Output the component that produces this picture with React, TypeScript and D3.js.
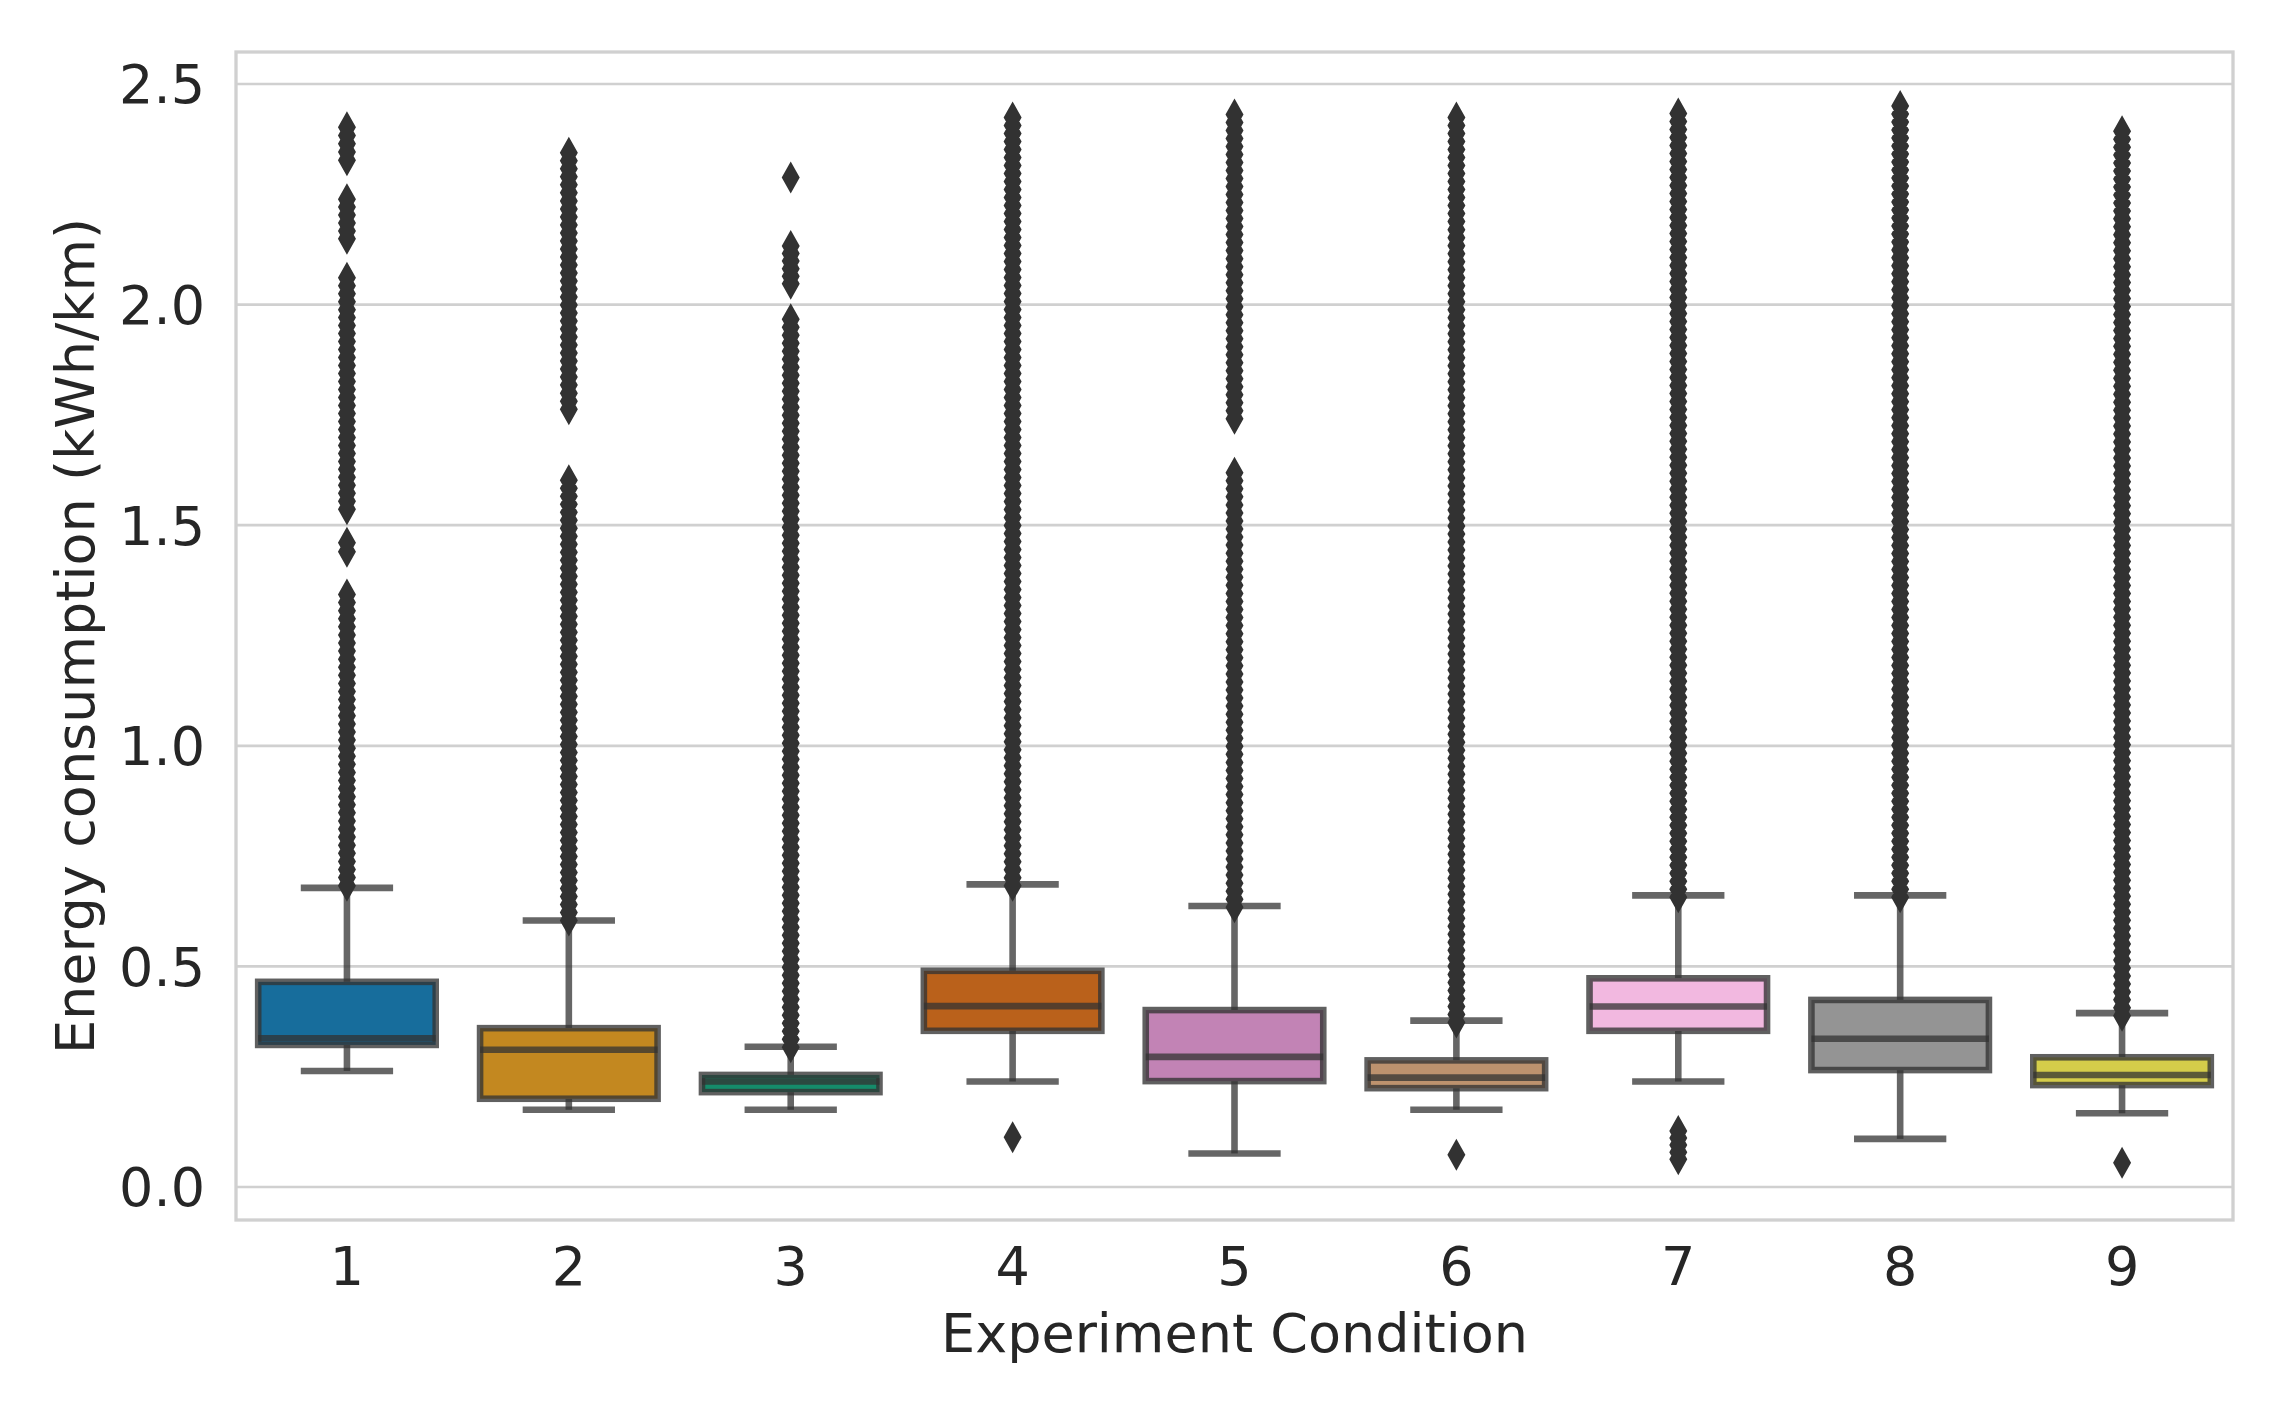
import React from 'react';
import * as d3 from 'd3';

const conditions = ['1', '2', '3', '4', '5', '6', '7', '8', '9'];
const palette = ['#0173b2', '#de8f05', '#029e73', '#d55e00', '#cc78bc', '#ca9161', '#fbafe4', '#949494', '#ece133'];

const q1 = [0.322, 0.200, 0.215, 0.354, 0.240, 0.224, 0.354, 0.265, 0.231];
const medians = [0.337, 0.311, 0.239, 0.410, 0.295, 0.248, 0.409, 0.336, 0.254];
const q3 = [0.465, 0.360, 0.254, 0.490, 0.401, 0.287, 0.473, 0.424, 0.294];
const whiskerLow = [0.263, 0.175, 0.175, 0.239, 0.076, 0.175, 0.239, 0.109, 0.167];
const whiskerHigh = [0.678, 0.604, 0.318, 0.686, 0.637, 0.377, 0.661, 0.661, 0.394];

// outlier runs per condition: [low, high] value ranges densely covered by flier markers
const outlierRuns: number[][][] = [
  [[2.327, 2.402], [2.149, 2.239], [1.536, 2.061], [1.44, 1.46], [0.683, 1.343]],
  [[1.763, 2.344], [0.604, 1.602]],
  [[2.288, 2.288], [2.047, 2.133], [0.317, 1.967]],
  [[0.683, 2.424], [0.113, 0.113]],
  [[1.741, 2.431], [0.634, 1.619]],
  [[0.373, 2.424], [0.073, 0.073]],
  [[0.657, 2.433], [0.063, 0.127]],
  [[0.657, 2.45]],
  [[0.388, 2.393], [0.05, 0.055]],
];

const yTicks = [0, 0.5, 1.0, 1.5, 2.0, 2.5];

const W = 2291;
const H = 1402;
const L = 236, R = 2233, T = 52, B = 1220;
const FONT = '"DejaVu Sans", sans-serif';
const TEXT = '#262626';
const LINE = '#333333';
const LW = 6.6;

export default function App() {
  const x = d3.scaleBand<string>().domain(conditions).range([L, R]).paddingInner(0).paddingOuter(0);
  const y = d3.scaleLinear().domain([-0.0748, 2.5725]).range([B, T]);
  const bw = x.bandwidth();
  const boxW = bw * 0.8;
  const capW = boxW * 0.52;
  const mW = 18, mH = 32;

  const fill = (c: string) => {
    const h = d3.hsl(c);
    h.s *= 0.75;
    return h.formatHex();
  };

  // render a run of overlapping thin-diamond fliers (texture step in pixels)
  const runPath = (cx: number, lo: number, hi: number) => {
    const yt = y(hi), yb = y(lo);
    const len = yb - yt;
    const n = Math.max(1, Math.round(len / 8) + 1);
    let d = '';
    for (let k = 0; k < n; k++) {
      const cy = n === 1 ? yt : yt + (len * k) / (n - 1);
      d += `M${cx},${cy - mH / 2}L${cx + mW / 2},${cy}L${cx},${cy + mH / 2}L${cx - mW / 2},${cy}Z`;
    }
    return d;
  };

  return (
    <svg width={W} height={H} style={{ position: 'absolute', left: 0, top: 0, background: '#fff' }}>
      <rect x={0} y={0} width={W} height={H} fill="#fff" />
      {yTicks.map((t) => (
        <line key={'g' + t} x1={L} x2={R} y1={y(t)} y2={y(t)} stroke="#d0d0d0" strokeWidth={2.7} />
      ))}
      <rect x={L} y={T} width={R - L} height={B - T} fill="none" stroke="#d0d0d0" strokeWidth={3.3} />
      {conditions.map((c, i) => {
        const cx = (x(c) as number) + bw / 2;
        const col = fill(palette[i]);
        return (
          <g key={'b' + c}>
            <g stroke={LINE} strokeOpacity={0.75} strokeWidth={LW}>
              <line x1={cx} x2={cx} y1={y(q3[i])} y2={y(whiskerHigh[i])} />
              <line x1={cx} x2={cx} y1={y(q1[i])} y2={y(whiskerLow[i])} />
              <line x1={cx - capW / 2} x2={cx + capW / 2} y1={y(whiskerHigh[i])} y2={y(whiskerHigh[i])} />
              <line x1={cx - capW / 2} x2={cx + capW / 2} y1={y(whiskerLow[i])} y2={y(whiskerLow[i])} />
            </g>
            <rect x={cx - boxW / 2} y={y(q3[i])} width={boxW} height={y(q1[i]) - y(q3[i])} fill={col} />
            <rect x={cx - boxW / 2} y={y(q3[i])} width={boxW} height={y(q1[i]) - y(q3[i])} fill="none" stroke={LINE} strokeOpacity={0.78} strokeWidth={LW} />
            <line x1={cx - boxW / 2} x2={cx + boxW / 2} y1={y(medians[i])} y2={y(medians[i])} stroke={LINE} strokeOpacity={0.75} strokeWidth={LW} />
          </g>
        );
      })}
      {conditions.map((c, i) => {
        const cx = (x(c) as number) + bw / 2;
        return (
          <g key={'o' + c} fill="#323232">
            {outlierRuns[i].map((r, j) => (
              <path key={j} d={runPath(cx, r[0], r[1])} />
            ))}
          </g>
        );
      })}
      {yTicks.map((t) => (
        <text key={'yt' + t} x={205} y={y(t)} dy="0.36em" textAnchor="end" fontFamily={FONT} fontSize={54} fill={TEXT}>
          {t.toFixed(1)}
        </text>
      ))}
      {conditions.map((c) => (
        <text key={'xt' + c} x={(x(c) as number) + bw / 2} y={1285} textAnchor="middle" fontFamily={FONT} fontSize={54} fill={TEXT}>
          {c}
        </text>
      ))}
      <text x={(L + R) / 2} y={1352} textAnchor="middle" fontFamily={FONT} fontSize={54} fill={TEXT}>
        Experiment Condition
      </text>
      <text transform={`translate(94,${(T + B) / 2}) rotate(-90)`} textAnchor="middle" fontFamily={FONT} fontSize={54} fill={TEXT}>
        Energy consumption (kWh/km)
      </text>
    </svg>
  );
}
